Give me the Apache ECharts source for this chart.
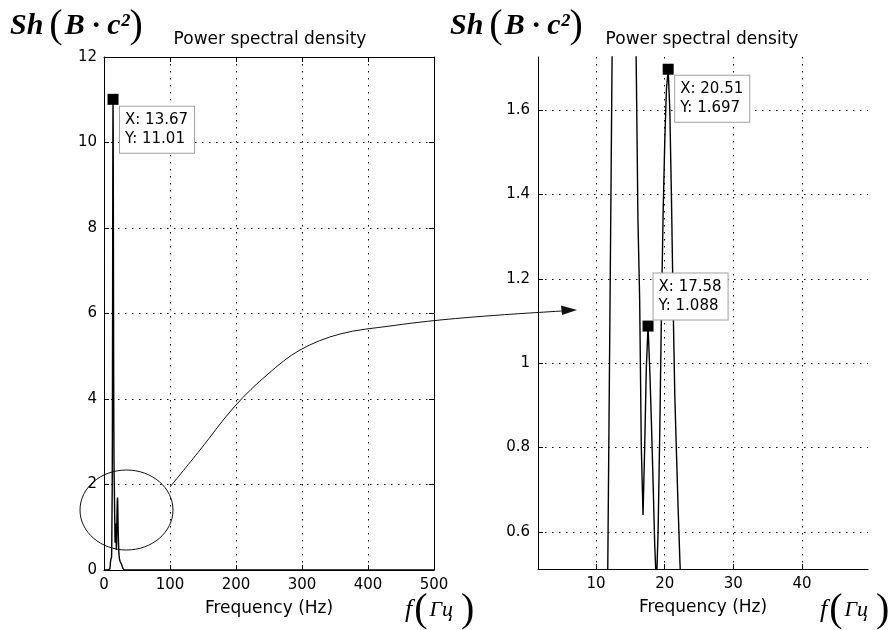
<!DOCTYPE html>
<html><head><meta charset="utf-8">
<script src="https://cdn.jsdelivr.net/npm/echarts@6/dist/echarts.min.js"></script>
<style>html,body{margin:0;padding:0;background:#fff}#c{width:893px;height:630px}</style>
</head><body><div id="c"></div>
<script>
// Spectrum (frequency in Hz, power spectral density)
const freqHz = [0, 5, 8.0, 8.79, 9.28, 9.77, 10.25, 10.74, 11.23, 11.47, 11.72, 11.96, 12.21, 12.45, 12.70, 12.94, 13.18, 13.43, 13.67, 13.92, 14.16, 14.40, 14.65, 14.89, 15.14, 15.38, 15.63, 15.88, 16.11, 16.36, 16.60, 16.85, 17.09, 17.33, 17.58, 17.82, 18.07, 18.31, 18.55, 18.80, 19.04, 19.29, 19.53, 19.78, 20.02, 20.26, 20.51, 20.75, 21.00, 21.24, 21.48, 21.73, 21.97, 22.22, 22.46, 22.95, 23.44, 24.41, 25.39, 26.37, 27.34, 28.32, 29.30, 30.27, 100, 200, 300, 400, 500];
const psd    = [0, 0, 0.0, 0.02, 0.08, 0.18, 0.24, 0.27, 0.28, 0.30, 0.52, 0.98, 1.46, 1.93, 3.2, 5.4, 7.9, 10.1, 11.01, 10.4, 8.7, 6.6, 4.7, 3.4, 2.6, 2.15, 2.0, 1.68, 1.34, 1.15, 0.80, 0.64, 0.80, 0.99, 1.088, 0.99, 0.86, 0.72, 0.57, 0.47, 0.60, 0.84, 1.12, 1.36, 1.53, 1.65, 1.697, 1.60, 1.38, 1.13, 0.92, 0.78, 0.65, 0.53, 0.43, 0.33, 0.26, 0.20, 0.16, 0.14, 0.10, 0.05, 0.02, 0.0, 0, 0, 0, 0, 0];
// tick values
const leftXTicks = [0, 100, 200, 300, 400, 500];
const leftYTicks = [0, 2, 4, 6, 8, 10, 12];
const rightXTicks = [10, 20, 30, 40];
const rightYTicks = [0.6, 0.8, 1, 1.2, 1.4, 1.6];
// data tips
const tipFreq = [13.67, 17.58, 20.51];
const tipPsd = [11.01, 1.088, 1.697];

const FONT = '"DejaVu Sans", sans-serif';
const SERIF = '"Liberation Serif", "DejaVu Serif", serif';
const pairs = freqHz.map((f, i) => [f, psd[i]]);
const gridLine = { show: true, lineStyle: { color: '#000', width: 1, type: [1.5, 5.5] } };
const tickIn = { show: true, inside: true, length: 5, lineStyle: { color: '#000' } };
const lbl = { color: '#000', fontFamily: FONT, fontSize: 15 };
const line = { show: true, onZero: false, lineStyle: { color: '#000', width: 1 } };

const tipLabel = {
  show: true,
  formatter: p => 'X: ' + p.value[0] + '\nY: ' + p.value[1],
  color: '#000', fontFamily: FONT, fontSize: 15, lineHeight: 19,
  backgroundColor: '#fff', borderColor: '#a0a0a0', borderWidth: 1,
  padding: [4, 6, 4, 5], align: 'left', verticalAlign: 'top'
};

const chart = echarts.init(document.getElementById('c'), null, { renderer: 'canvas' });
chart.setOption({
  animation: false,
  backgroundColor: '#fff',
  grid: [
    { left: 104, top: 57, width: 330, height: 513 },
    { left: 538, top: 57, width: 330, height: 512 }
  ],
  xAxis: [
    { gridIndex: 0, type: 'value', min: leftXTicks[0], max: leftXTicks[leftXTicks.length - 1], interval: 100, position: 'bottom',
      axisLine: line, axisTick: tickIn, axisLabel: Object.assign({ margin: 8 }, lbl), splitLine: gridLine,
      name: 'Frequency (Hz)', nameLocation: 'middle', nameGap: 30,
      nameTextStyle: { color: '#000', fontFamily: FONT, fontSize: 17 } },
    { gridIndex: 0, type: 'value', min: 0, max: 500, interval: 100, position: 'top',
      axisLine: line, axisTick: tickIn, axisLabel: { show: false }, splitLine: { show: false } },
    { gridIndex: 1, type: 'value', min: 1.56, max: 49.6, position: 'bottom',
      axisLine: line, axisTick: Object.assign({ customValues: rightXTicks }, tickIn),
      axisLabel: Object.assign({ margin: 8, customValues: rightXTicks }, lbl), splitLine: gridLine,
      name: 'Frequency (Hz)', nameLocation: 'middle', nameGap: 30,
      nameTextStyle: { color: '#000', fontFamily: FONT, fontSize: 17 } }
  ],
  yAxis: [
    { gridIndex: 0, type: 'value', min: leftYTicks[0], max: leftYTicks[leftYTicks.length - 1], interval: 2, position: 'left',
      axisLine: line, axisTick: tickIn, axisLabel: Object.assign({ margin: 7 }, lbl), splitLine: gridLine },
    { gridIndex: 0, type: 'value', min: 0, max: 12, interval: 2, position: 'right',
      axisLine: line, axisTick: tickIn, axisLabel: { show: false }, splitLine: { show: false } },
    { gridIndex: 1, type: 'value', min: 0.512, max: 1.726, position: 'left',
      axisLine: line, axisTick: Object.assign({ customValues: rightYTicks }, tickIn),
      axisLabel: Object.assign({ margin: 8, customValues: rightYTicks }, lbl), splitLine: gridLine }
  ],
  series: [
    { type: 'line', xAxisIndex: 0, yAxisIndex: 0, data: pairs, showSymbol: false, clip: true,
      lineStyle: { color: '#000', width: 1.4 }, z: 3 },
    { type: 'line', xAxisIndex: 2, yAxisIndex: 2, data: pairs, showSymbol: false, clip: true,
      lineStyle: { color: '#000', width: 1.4 }, z: 3 },
    { type: 'scatter', xAxisIndex: 0, yAxisIndex: 0, symbol: 'rect', symbolSize: 11, clip: false,
      itemStyle: { color: '#000', opacity: 1 }, label: tipLabel, z: 5,
      data: [{ value: [tipFreq[0], tipPsd[0]], label: { position: [12.5, 13] } }] },
    { type: 'scatter', xAxisIndex: 2, yAxisIndex: 2, symbol: 'rect', symbolSize: 11, clip: false,
      itemStyle: { color: '#000', opacity: 1 }, label: tipLabel, z: 5,
      data: [
        { value: [tipFreq[1], tipPsd[1]], label: { position: [11, -47] } },
        { value: [tipFreq[2], tipPsd[2]], label: { position: [12.5, 12] } }
      ] }
  ],
  graphic: [
    { type: 'text', x: 270, y: 40, style: { text: 'Power spectral density', align: 'center', verticalAlign: 'middle', fill: '#000', font: '17px ' + FONT } },
    { type: 'text', x: 702, y: 40, style: { text: 'Power spectral density', align: 'center', verticalAlign: 'middle', fill: '#000', font: '17px ' + FONT } },
    // Sh(B·c²) labels
    ...[10, 450].map(x0 => ({
      type: 'text', x: x0, y: 26,
      style: {
        text: '{s|Sh}{p|(}{s|B · c²}{q|)}', align: 'left', verticalAlign: 'middle', fill: '#000',
        rich: {
          s: { fontFamily: SERIF, fontStyle: 'italic', fontWeight: 'bold', fontSize: 30, fill: '#000' },
          p: { fontFamily: SERIF, fontSize: 40, padding: [0, 2, 0, 6], fill: '#000' },
          q: { fontFamily: SERIF, fontSize: 40, padding: [0, 0, 0, 0], fill: '#000' }
        }
      }
    })),
    // f(Гц) labels
    ...[405, 820].map(x0 => ({
      type: 'text', x: x0, y: 610,
      style: {
        text: '{f|f}{p|(}{g|Гц}{p|)}', align: 'left', verticalAlign: 'middle', fill: '#000',
        rich: {
          f: { fontFamily: SERIF, fontStyle: 'italic', fontSize: 26, padding: [0, 2, 0, 0], fill: '#000' },
          p: { fontFamily: SERIF, fontSize: 40, fill: '#000' },
          g: { fontFamily: SERIF, fontStyle: 'italic', fontSize: 22, padding: [0, 8, 0, 2], fill: '#000' }
        }
      }
    })),
    // ellipse around the low-amplitude region
    { type: 'ellipse', shape: { cx: 126.5, cy: 510, rx: 46.5, ry: 40 }, style: { fill: 'none', stroke: '#111', lineWidth: 1 }, z: 10 },
    // arrow to zoomed view
    { type: 'polyline', shape: { points: [[170, 487], [200, 450], [235, 406], [268, 374], [300, 350], [340, 334], [390, 326], [440, 320], [500, 315], [562, 311]], smooth: 0.35 },
      style: { fill: 'none', stroke: '#111', lineWidth: 1 }, z: 10 },
    { type: 'polygon', shape: { points: [[577, 310], [561, 305.5], [562, 315]] }, style: { fill: '#111' }, z: 10 }
  ]
});
</script>
</body></html>
